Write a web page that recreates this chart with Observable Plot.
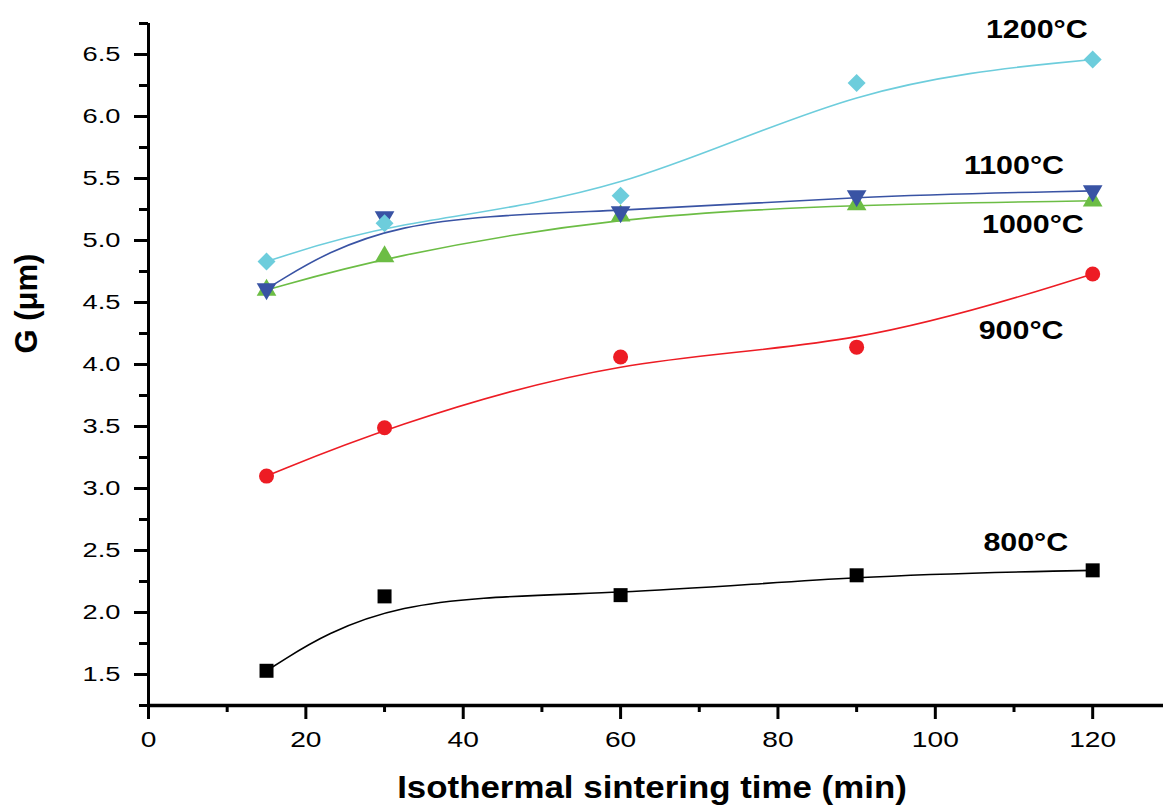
<!DOCTYPE html>
<html>
<head>
<meta charset="utf-8">
<script src="https://cdn.jsdelivr.net/npm/d3@7"></script>
<script src="https://cdn.jsdelivr.net/npm/@observablehq/plot@0.6"></script>
<style>
  html, body { margin: 0; padding: 0; background: #fff; }
</style>
</head>
<body>
<div id="chart"></div>
<script>
// Data
const times = [15, 30, 60, 90, 120];
const g800  = [1.53, 2.13, 2.14, 2.30, 2.34];
const g900  = [3.10, 3.49, 4.06, 4.14, 4.73];
const g1000 = [4.60, 4.87, 5.20, 5.29, 5.32];
const g1100 = [4.61, 5.19, 5.23, 5.36, 5.40];
const g1200 = [4.83, 5.14, 5.36, 6.27, 6.46];

const seriesNames  = ["800°C", "900°C", "1000°C", "1100°C", "1200°C"];
const seriesColors = ["#000000", "#ed1c24", "#6cbd45", "#3953a4", "#6dcddc"];
const labelX = [111.5, 110.9, 112.4, 110.0, 112.9];
const labelY = [2.56, 4.27, 5.13, 5.60, 6.70];

const xMajor = [0, 20, 40, 60, 80, 100, 120];
const xMinor = [10, 30, 50, 70, 90, 110];
const yMajor = [1.5, 2.0, 2.5, 3.0, 3.5, 4.0, 4.5, 5.0, 5.5, 6.0, 6.5];
const yMinor = [1.25, 1.75, 2.25, 2.75, 3.25, 3.75, 4.25, 4.75, 5.25, 5.75, 6.25, 6.75];

const xTitle = "Isothermal sintering time (min)";
const yTitle = "G (μm)";

const triangleDown = {
  draw(context, size) {
    const y = -Math.sqrt(size / (Math.sqrt(3) * 3));
    context.moveTo(0, -2 * y);
    context.lineTo(-Math.sqrt(3) * y, y);
    context.lineTo(Math.sqrt(3) * y, y);
    context.closePath();
  }
};
const seriesValues = [g800, g900, g1000, g1100, g1200];
const seriesSymbols = ["square", "circle", "triangle", triangleDown, "diamond2"];
const seriesR = [7.9, 7.5, 7.3, 7.3, 8.1];

const marks = [];
seriesValues.forEach((vals, i) => {
  const data = times.map((t, j) => ({t, g: vals[j]}));
  marks.push(Plot.line(data, {x: "t", y: "g", curve: "basis", stroke: seriesColors[i], strokeWidth: 1.6}));
});
seriesValues.forEach((vals, i) => {
  const data = times.map((t, j) => ({t, g: vals[j]}));
  marks.push(Plot.dot(data, {x: "t", y: "g", symbol: seriesSymbols[i], r: seriesR[i], fill: seriesColors[i], stroke: "none"}));
});

const labels = seriesNames.map((n, i) => ({n, x: labelX[i], y: labelY[i]}));

const chart = Plot.plot({
  width: 1163,
  height: 805,
  marginLeft: 148,
  marginRight: 0,
  marginTop: 23,
  marginBottom: 100,
  style: {fontFamily: "'Liberation Sans', Arial, sans-serif", background: "#fff", color: "#000"},
  x: {domain: [0, 129]},
  y: {domain: [1.25, 6.75]},
  marks: [
    ...marks,
    Plot.text(labels, {x: "x", y: "y", text: "n", fontSize: 26, fontWeight: "bold", fill: "#000"}),
    Plot.axisX({ticks: xMajor, tickSize: 14, tickPadding: 12, strokeWidth: 3, fontSize: 22, tickFormat: d => d, label: null}),
    Plot.axisX({ticks: xMinor, tickSize: 7, strokeWidth: 3, text: null, label: null}),
    Plot.axisY({ticks: yMajor, tickSize: 14, tickPadding: 14, strokeWidth: 3, fontSize: 21, tickFormat: d3.format(".1f"), label: null}),
    Plot.axisY({ticks: yMinor, tickSize: 9, strokeWidth: 3, text: null, label: null}),
    Plot.ruleY([1.25], {strokeWidth: 3.5, stroke: "#000"}),
    Plot.ruleX([0], {strokeWidth: 3, stroke: "#000"}),
    Plot.text([xTitle], {frameAnchor: "bottom", dx: -4, dy: 82, lineAnchor: "middle", fontSize: 32, fontWeight: "bold", fill: "#000"}),
    Plot.text([yTitle], {frameAnchor: "left", dx: -121, dy: -11, rotate: -90, lineAnchor: "middle", fontSize: 31, fontWeight: "bold", fill: "#000"})
  ]
});
document.getElementById("chart").appendChild(chart);

// Horizontal stretch of text glyphs (the reference's lettering is wide),
// scaling each text about its own anchor point.
function stretch(el, s) {
  let t = el.getAttribute("transform") || "";
  const x = el.getAttribute("x");
  if (x != null && x !== "" && isFinite(+x) && +x !== 0) {
    t = (t + ` translate(${+x},0)`).trim();
    el.setAttribute("x", 0);
  }
  el.setAttribute("transform", (t + ` scale(${s},1)`).trim());
}
const svg = d3.select(chart);
svg.selectAll('g[aria-label="x-axis tick label"] text').each(function() { stretch(this, 1.28); });
svg.selectAll('g[aria-label="y-axis tick label"] text').each(function() { stretch(this, 1.3); });
svg.selectAll("text").filter(function() { return seriesNames.includes(this.textContent); }).each(function() { stretch(this, 1.17); });
svg.selectAll("text").filter(function() { return this.textContent === xTitle; }).each(function() { stretch(this, 1.09); });
</script>
</body>
</html>
